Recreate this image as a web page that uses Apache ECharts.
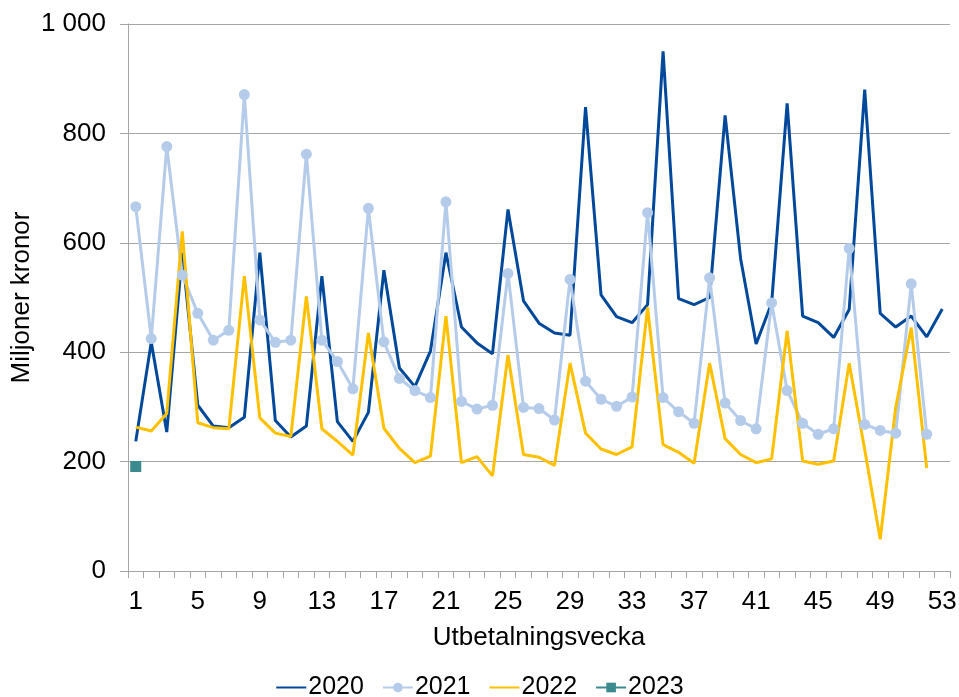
<!DOCTYPE html>
<html>
<head>
<meta charset="utf-8">
<script src="https://cdn.jsdelivr.net/npm/echarts@6/dist/echarts.min.js"></script>
<style>
html,body{margin:0;padding:0;background:#fff;}
#c{width:959px;height:697px;}
</style>
</head>
<body>
<div id="c"></div>
<script>
var weeks = [];
for (var w = 1; w <= 53; w++) weeks.push(String(w));
var yTicks = [0, 200, 400, 600, 800, 1000];
var s2020 = [237,418,254,582,303,265,262,281,582,275,245,265,539,273,237,290,550,371,337,402,582,446,417,397,661,494,453,435,431,848,505,465,454,487,950,498,487,500,833,571,415,490,855,466,454,427,478,880,471,446,466,428,479];
var s2021 = [666,425,776,541,471,422,440,871,459,418,422,762,422,383,333,663,419,352,330,317,675,310,296,303,544,299,297,276,533,347,314,301,318,655,317,291,270,536,307,275,260,490,330,270,250,260,590,268,257,252,525,250,null];
var s2022 = [263,256,288,621,271,262,260,539,280,252,246,502,260,237,212,435,261,224,198,210,466,198,209,174,395,213,208,193,380,252,223,213,227,482,231,217,197,380,242,213,198,205,439,201,195,201,380,222,58,299,445,188,null];
var s2023 = [191];

var FONT = 'Liberation Sans, Arial, sans-serif';
var chart = echarts.init(document.getElementById('c'), null, {renderer:'canvas'});
chart.setOption({
  animation:false,
  backgroundColor:'#fff',
  textStyle:{fontFamily:FONT, color:'#000'},
  grid:{left:128, right:9, top:24, bottom:126, containLabel:false, outerBoundsMode:'none'},
  legend:{
    bottom:-8, left:'center',
    itemWidth:30, itemHeight:12, itemGap:18,
    textStyle:{fontSize:25, color:'#000', fontFamily:FONT, padding:[0,0,0,-3]},
    data:[
      {name:'2020', itemStyle:{opacity:0}},
      {name:'2021'},
      {name:'2022', itemStyle:{opacity:0}},
      {name:'2023'}
    ]
  },
  xAxis:{
    type:'category', data:weeks, boundaryGap:true,
    name:'Utbetalningsvecka', nameLocation:'middle', nameGap:54, nameMoveOverlap:false,
    nameTextStyle:{fontSize:26, color:'#000', fontFamily:FONT},
    axisLine:{lineStyle:{color:'#A6A6A6', width:1}},
    axisTick:{show:true, interval:0, length:7, lineStyle:{color:'#A6A6A6'}},
    axisLabel:{interval:3, fontSize:26, color:'#000', margin:18, fontFamily:FONT},
    splitLine:{show:false}
  },
  yAxis:{
    type:'value', min:yTicks[0], max:yTicks[yTicks.length-1], interval:200,
    name:'Miljoner kronor', nameLocation:'middle', nameGap:93, nameRotate:90, nameMoveOverlap:false,
    nameTextStyle:{fontSize:26, color:'#000', fontFamily:FONT},
    axisLine:{show:true, lineStyle:{color:'#A6A6A6', width:1}},
    axisTick:{show:true, length:8, lineStyle:{color:'#A6A6A6'}},
    axisLabel:{fontSize:26, color:'#000', margin:22, fontFamily:FONT,
      formatter:function(v){ return v >= 1000 ? String(v).replace(/\B(?=(\d{3})+(?!\d))/g,' ') : String(v); }},
    splitLine:{show:true, lineStyle:{color:'#A6A6A6', width:1}}
  },
  series:[
    {name:'2020', type:'line', data:s2020, symbol:'none', lineStyle:{color:'#00489A', width:3}, itemStyle:{color:'#00489A'}},
    {name:'2021', type:'line', data:s2021, symbol:'circle', symbolSize:11, showSymbol:true, showAllSymbol:true, lineStyle:{color:'#B4CCE9', width:3}, itemStyle:{color:'#B4CCE9'}},
    {name:'2022', type:'line', data:s2022, symbol:'none', lineStyle:{color:'#FFC000', width:3}, itemStyle:{color:'#FFC000'}},
    {name:'2023', type:'line', data:s2023, symbol:'rect', symbolSize:11, showSymbol:true, lineStyle:{color:'#3A8A8E', width:3}, itemStyle:{color:'#3A8A8E'}}
  ]
});
</script>
</body>
</html>
